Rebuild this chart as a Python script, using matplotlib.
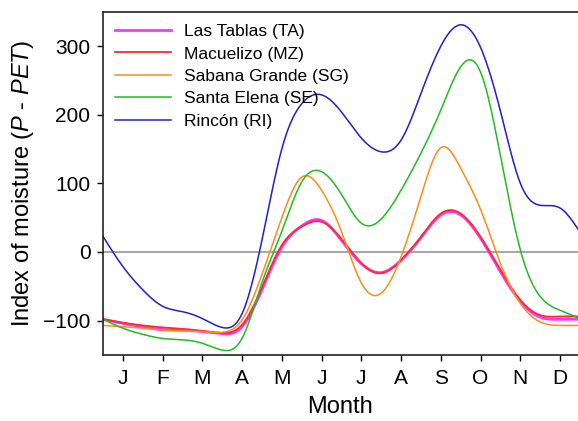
import numpy as np
import matplotlib
matplotlib.use('Agg')
import matplotlib.pyplot as plt

plt.rcParams['font.family'] = ['Liberation Sans', 'DejaVu Sans']
plt.rcParams['mathtext.fontset'] = 'custom'
plt.rcParams['mathtext.it'] = 'Liberation Sans:italic'
plt.rcParams['mathtext.rm'] = 'Liberation Sans'

# half-month positions (1 = January)
month_pos = [0.5, 1.0, 1.5, 2.0, 2.5, 3.0, 3.5, 4.0, 4.5, 5.0, 5.5, 6.0, 6.5,
             7.0, 7.5, 8.0, 8.5, 9.0, 9.5, 10.0, 10.5, 11.0, 11.5, 12.0, 12.5]
month_labels = ['J', 'F', 'M', 'A', 'M', 'J', 'J', 'A', 'S', 'O', 'N', 'D']

las_tablas = [-98, -104, -109, -113, -114, -116, -119, -109, -55, 7, 38, 46, 17,
              -17, -30, -12, 21, 54, 54, 20, -29, -72, -95, -98, -98]
macuelizo = [-98, -103, -107, -110, -112, -115, -118, -106, -52, 10, 37, 44, 19,
             -16, -31, -12, 22, 56, 56, 22, -26, -70, -92, -94, -94]
sabana_grande = [-107, -109, -111, -114, -115, -116, -117, -99, -33, 50, 109, 90, 30,
                 -45, -60, -7, 81, 152, 122, 62, -17, -75, -102, -107, -107]
santa_elena = [-98, -111, -120, -126, -128, -133, -143, -126, -45, 30, 102, 117, 84,
               42, 48, 90, 144, 207, 270, 262, 140, 3, -65, -85, -97]
rincon = [23, -21, -55, -79, -87, -97, -110, -90, 17, 150, 216, 229, 204,
          166, 146, 163, 231, 300, 331, 298, 205, 100, 68, 64, 29]


def smooth(x, y, n=20):
    # natural cubic spline through the read points
    x = np.asarray(x, float)
    y = np.asarray(y, float)
    k = len(x)
    h = np.diff(x)
    A = np.zeros((k, k))
    b = np.zeros(k)
    A[0, 0] = A[-1, -1] = 1
    for i in range(1, k - 1):
        A[i, i - 1] = h[i - 1]
        A[i, i] = 2 * (h[i - 1] + h[i])
        A[i, i + 1] = h[i]
        b[i] = 6 * ((y[i + 1] - y[i]) / h[i] - (y[i] - y[i - 1]) / h[i - 1])
    M = np.linalg.solve(A, b)
    xs, ys = [], []
    for i in range(k - 1):
        t = np.linspace(x[i], x[i + 1], n, endpoint=False)
        a = x[i + 1] - t
        c = t - x[i]
        s = (M[i] * a ** 3 + M[i + 1] * c ** 3) / (6 * h[i]) \
            + (y[i] / h[i] - M[i] * h[i] / 6) * a + (y[i + 1] / h[i] - M[i + 1] * h[i] / 6) * c
        xs.append(t)
        ys.append(s)
    xs.append([x[-1]])
    ys.append([y[-1]])
    return np.concatenate(xs), np.concatenate(ys)


fig = plt.figure(figsize=(5.78, 4.21), dpi=100)
ax = fig.add_axes([0.178, 0.157, 0.822, 0.815])

ax.axhline(0, color='#a8a8a8', lw=1.5, zorder=1)

series = [
    (las_tablas, '#ff33ff', 2.0, 'Las Tablas (TA)'),
    (macuelizo, '#ff2a2a', 1.3, 'Macuelizo (MZ)'),
    (sabana_grande, '#ff8c1a', 1.1, 'Sabana Grande (SG)'),
    (santa_elena, '#22bb22', 1.1, 'Santa Elena (SE)'),
    (rincon, '#2020c8', 1.1, 'Rincón (RI)'),
]
for vals, col, lw, name in series:
    xs, ys = smooth(month_pos, vals)
    ax.plot(xs, ys, color=col, lw=lw, label=name, zorder=2)

ax.set_xlim(0.5, 12.45)
ax.set_ylim(-150, 350)
ax.set_xticks(range(1, 13))
ax.set_xticklabels(month_labels)
ax.set_yticks([-100, 0, 100, 200, 300])
ax.tick_params(direction='out', length=4, width=1, labelsize=15, pad=5)
ax.tick_params(axis='x', pad=6)
ax.spines['right'].set_visible(False)
for s in ['left', 'bottom', 'top']:
    ax.spines[s].set_linewidth(1.2)
    ax.spines[s].set_color('#222222')

ax.set_xlabel('Month', fontsize=17, labelpad=6)
ax.set_ylabel('Index of moisture ($P$ - $PET$)', fontsize=17, labelpad=5)

ax.legend(loc='upper left', frameon=False, fontsize=12.5, handlelength=3.2,
          handletextpad=0.8, labelspacing=0.42, borderaxespad=0.3,
          bbox_to_anchor=(0.0, 1.0))

fig.savefig('out.png', dpi=100)
